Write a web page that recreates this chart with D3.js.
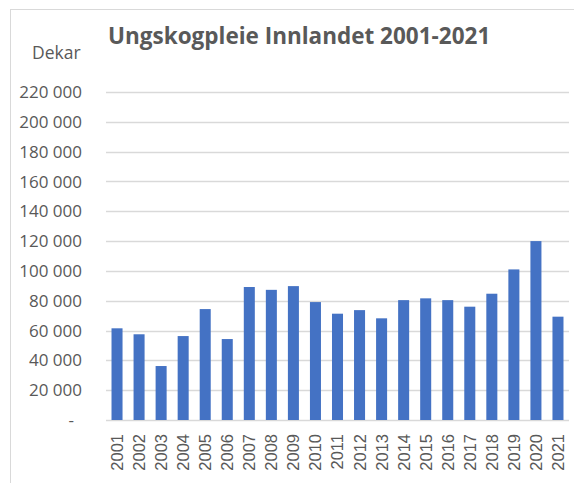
<!DOCTYPE html>
<html>
<head>
<meta charset="utf-8">
<script src="https://cdn.jsdelivr.net/npm/d3@7"></script>
<style>
  body { margin: 0; background: #fff; }
  svg { display: block; }
</style>
</head>
<body>
<div id="chart"></div>
<script>
// data (dekar)
const years = ['2001', '2002', '2003', '2004', '2005', '2006', '2007', '2008', '2009', '2010', '2011',
  '2012', '2013', '2014', '2015', '2016', '2017', '2018', '2019', '2020', '2021'];
const dekar = [61500, 57500, 36200, 56300, 74400, 54300, 89200, 87300, 89800, 79100, 71300,
  73700, 68200, 80400, 81600, 80400, 76000, 84700, 101000, 120000, 69300];
const yTicks = [0, 20000, 40000, 60000, 80000, 100000, 120000, 140000, 160000, 180000, 200000, 220000];

const W = 574, H = 483;
const margin = { top: 92, right: 5, bottom: 63, left: 106 };
const width = W - margin.left - margin.right;
const height = H - margin.top - margin.bottom;
const grey = '#595959';

const svg = d3.select('#chart').append('svg')
  .attr('width', W)
  .attr('height', H);

// chart area frame
svg.append('rect')
  .attr('x', 10.5).attr('y', 9.5)
  .attr('width', W + 20).attr('height', H + 20)
  .attr('fill', 'none')
  .attr('stroke', '#d9d9d9');

svg.append('text')
  .attr('x', 108).attr('y', 44)
  .attr('font-family', 'Open Sans')
  .attr('font-weight', 'bold')
  .attr('font-size', 22.5)
  .attr('fill', grey)
  .text('Ungskogpleie Innlandet 2001-2021');

svg.append('text')
  .attr('x', 32).attr('y', 59)
  .attr('font-family', 'Open Sans')
  .attr('font-size', 17.5)
  .attr('fill', grey)
  .text('Dekar');

const g = svg.append('g')
  .attr('transform', 'translate(' + margin.left + ',' + margin.top + ')');

const x = d3.scaleBand().domain(years).range([0, width]).paddingInner(0.5).paddingOuter(0.25);
const y = d3.scaleLinear().domain([0, 220000]).range([height, 0]);

const fmt = v => v === 0 ? '-' : d3.format(',')(v).replace(/,/g, ' ');

// gridlines
g.append('g')
  .selectAll('line')
  .data(yTicks)
  .join('line')
  .attr('x1', 0).attr('x2', width)
  .attr('y1', d => Math.round(y(d)) + 0.5)
  .attr('y2', d => Math.round(y(d)) + 0.5)
  .attr('stroke', '#d9d9d9')
  .attr('stroke-width', 1.5);

// y labels
g.append('g')
  .selectAll('text')
  .data(yTicks)
  .join('text')
  .attr('x', d => d === 0 ? -32 : -24)
  .attr('y', d => y(d))
  .attr('dy', '0.36em')
  .attr('text-anchor', 'end')
  .attr('font-family', 'Open Sans')
  .attr('font-size', 17)
  .attr('fill', grey)
  .text(fmt);

// bars
g.append('g')
  .selectAll('rect')
  .data(dekar)
  .join('rect')
  .attr('x', (d, i) => x(years[i]))
  .attr('width', x.bandwidth())
  .attr('y', d => y(d))
  .attr('height', d => height - y(d))
  .attr('fill', '#4472c4');

// x labels, rotated
g.append('g')
  .selectAll('text')
  .data(years)
  .join('text')
  .attr('transform', d => 'translate(' + (x(d) + x.bandwidth() / 2) + ',' + (height + 14) + ') rotate(-90)')
  .attr('dy', '0.36em')
  .attr('text-anchor', 'end')
  .attr('font-family', 'Liberation Sans')
  .attr('font-size', 16.5)
  .attr('fill', grey)
  .text(d => d);
</script>
</body>
</html>
